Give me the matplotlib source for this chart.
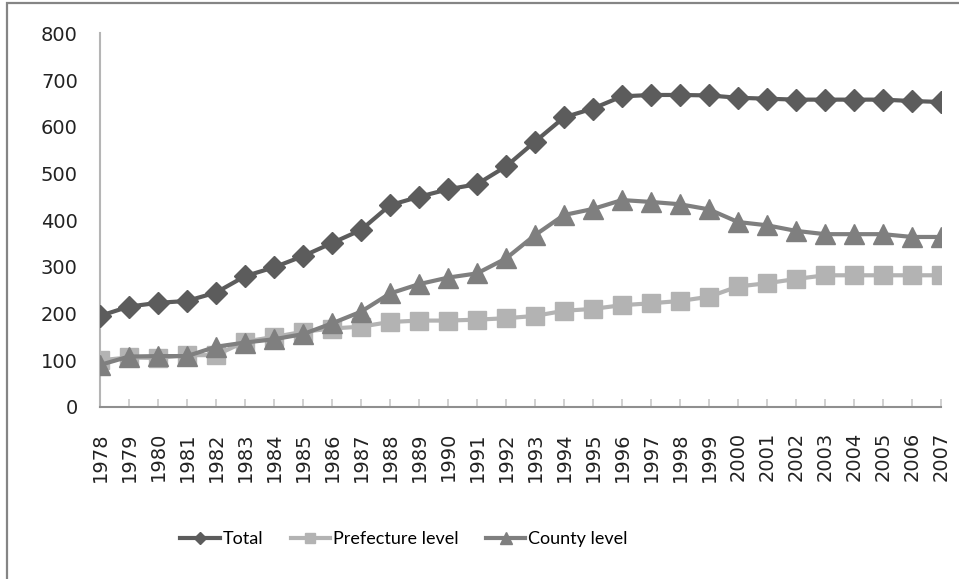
import matplotlib
matplotlib.use('Agg')
import matplotlib.pyplot as plt
from matplotlib.patches import Rectangle

years = list(range(1978, 2008))
total = [195, 215, 223, 227, 245, 280, 299, 323, 351, 379,
         432, 450, 466, 477, 515, 568, 620, 639, 665, 668,
         668, 667, 662, 660, 658, 658, 658, 658, 655, 653]
prefecture = [100, 106, 105, 111, 111, 140, 150, 161, 168, 172,
              182, 185, 185, 187, 190, 195, 206, 210, 218, 222,
              227, 236, 258, 265, 274, 282, 282, 282, 282, 282]
county = [90, 108, 109, 109, 129, 138, 145, 156, 179, 204,
          243, 263, 277, 286, 318, 368, 411, 424, 443, 439,
          434, 423, 396, 389, 377, 370, 370, 370, 364, 364]

series_names = ['Total', 'Prefecture level', 'County level']

fig = plt.figure(figsize=(9.59, 5.79), dpi=100)
ax = fig.add_axes([100 / 959, 1 - 407 / 579, 841 / 959, (407 - 33.3) / 579])

# outer frame (only top/left visible in the reference)
fig.patches.append(Rectangle((6.5 / 959, -0.1), 1.2, (579 - 3.5) / 579 + 0.1,
                             transform=fig.transFigure, fill=False,
                             edgecolor='#858585', linewidth=1.6))

ax.plot(years, total, color='#5c5c5c', lw=3, marker='D', ms=11,
        label=series_names[0], zorder=5)
ax.plot(years, prefecture, color='#b3b3b3', lw=3, marker='s', ms=13,
        label=series_names[1], zorder=3)
ax.plot(years, county, color='#7f7f7f', lw=3, marker='^', ms=14,
        label=series_names[2], zorder=4)

ax.set_xlim(1978, 2007)
ax.set_ylim(0, 800)
ax.set_yticks(range(0, 801, 100))
ax.set_xticks(years)
ax.set_xticklabels([str(y) for y in years], rotation=90)

for s in ['top', 'right']:
    ax.spines[s].set_visible(False)
ax.spines['left'].set_color('#b5b5b5')
ax.spines['bottom'].set_color('#8f8f8f')
ax.spines['left'].set_linewidth(1.5)
ax.spines['bottom'].set_linewidth(1.5)

ax.tick_params(axis='y', length=0, pad=16, labelsize=14, labelcolor='#222222')
ax.tick_params(axis='x', direction='in', length=6, width=1.2, color='#c8c8c8',
               pad=18, labelsize=14, labelcolor='#222222')

leg = fig.legend(loc='center', bbox_to_anchor=(404 / 959, 1 - 539 / 579), ncol=3,
                 frameon=False, handlelength=2.2, handletextpad=0.15,
                 columnspacing=1.5, markerscale=0.6,
                 prop={'family': ['Lato', 'DejaVu Sans'], 'size': 13})

fig.savefig('out.png', dpi=100)
